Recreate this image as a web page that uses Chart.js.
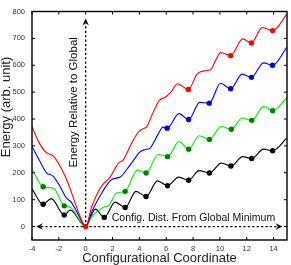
<!DOCTYPE html>
<html><head><meta charset="utf-8">
<script src="https://cdn.jsdelivr.net/npm/chart.js@4"></script>
<style>html,body{margin:0;padding:0;background:#fff;overflow:hidden;}</style>
</head><body>
<canvas id="c" width="291" height="265" style="display:block;width:291px;height:265px"></canvas>
<script>
// ---- tick labels ----
const xTicks = [-4, -2, 0, 2, 4, 6, 8, 10, 12, 14];
const yTicks = [0, 100, 200, 300, 400, 500, 600, 700, 800];

// ---- curves ----
const blackX = [-4, -3.17, -2.57, -1.6, -1.15, 0, 0.72, 1.38, 2.2, 2.94, 3.75, 4.5, 5.35, 6.1, 6.94, 7.67, 8.45, 9.22, 10.1, 10.82, 11.7, 12.37, 13.25, 13.93, 15];
const blackY = [140, 83, 104, 43, 61, 0, 65, 34, 91, 71, 131, 112, 170, 152, 184, 172, 208, 199, 236, 225, 260, 253, 288, 282, 330];

const greenX = [-4, -3.17, -2.7, -2.3, -1.6, -1.15, 0, 0.5, 1.35, 1.75, 2.3, 2.94, 3.85, 4.5, 5.4, 6.1, 6.94, 7.67, 8.45, 9.22, 10.1, 10.85, 11.66, 12.37, 13.27, 13.93, 15];
const greenY = [214, 148, 145, 138, 77, 72, 0, 40, 72, 80, 125, 131, 210, 199, 268, 260, 316, 288, 338, 324, 372, 362, 404, 395, 447, 431, 480];

const blueX = [-4, -3.4, -2.92, -2.43, -1.94, -1.45, -1.08, -0.6, 0, 0.45, 1.2, 1.96, 2.57, 3.1, 3.55, 4.0, 4.4, 4.8, 5.4, 5.76, 6.07, 6.95, 7.67, 8.5, 9.21, 10.05, 10.8, 11.66, 12.35, 13.25, 13.92, 15];
const blueY = [298, 242, 200, 188, 152, 107, 91, 49, 0, 55, 125, 176, 184, 215, 245, 276, 286, 292, 344, 370, 366, 420, 398, 462, 459, 533, 513, 567, 555, 609, 600, 668];

const redX = [-4, -3.5, -3.0, -2.4, -1.8, -1.3, -0.8, -0.35, 0, 0.44, 1.18, 1.83, 2.44, 2.8, 3.4, 3.9, 4.2, 4.55, 5.0, 5.5, 5.9, 6.35, 6.85, 7.65, 8.3, 8.8, 9.3, 9.7, 10.05, 10.8, 11.7, 12.35, 13.15, 13.93, 15];
const redY = [372, 315, 278, 262, 215, 160, 90, 30, 0, 73, 150, 185, 236, 248, 308, 350, 362, 372, 422, 470, 480, 500, 531, 510, 567, 579, 583, 620, 647, 636, 698, 683, 740, 729, 790];

// ---- marked minima ----
const blackDotX = [-3.17, -1.6, 1.38, 2.94, 4.5, 6.1, 7.67, 9.22, 10.82, 12.37, 13.93];
const blackDotY = [83, 43, 34, 71, 112, 152, 172, 199, 225, 253, 282];
const greenDotX = [-3.17, -1.6, 2.94, 4.5, 6.1, 7.67, 9.22, 10.85, 12.37, 13.93];
const greenDotY = [148, 77, 131, 199, 260, 288, 324, 362, 395, 431];
const blueDotX = [6.07, 7.67, 9.21, 10.8, 12.35, 13.92];
const blueDotY = [366, 398, 459, 513, 555, 600];
const redDotX = [0, 7.65, 10.8, 12.35, 13.93];
const redDotY = [0, 510, 636, 683, 729];

// ---- annotations ----
const vArrow = {x: 0, from: 0, to: 774};
const hArrow = {y: 0, from: -3.7, to: 14.66};
const vLabel = {text: 'Energy Relative to Global', x: -0.9, y: 462};
const hLabel = {text: 'Config. Dist. From Global Minimum', x: 8.03, y: 30};
const xTitle = 'Configurational Coordinate';
const yTitle = 'Energy (arb. unit)';

const FONT = '"Liberation Sans", Arial, sans-serif';
const pts = (xs, ys) => xs.map((x, i) => ({x: x, y: ys[i]}));
const curve = (label, xs, ys, color) => ({
  type: 'line', label, data: pts(xs, ys), borderColor: color, backgroundColor: color,
  borderWidth: 1.1, pointRadius: 0, cubicInterpolationMode: 'monotone', fill: false
});
const dots = (label, xs, ys, color) => ({
  type: 'scatter', label, data: pts(xs, ys), showLine: false, pointRadius: 2.7,
  pointBackgroundColor: color, pointBorderColor: color, pointBorderWidth: 0
});

function head(ctx, tx, ty, dx, dy) {
  const len = 7, half = 3.2;
  const px = -dy, py = dx;
  ctx.beginPath();
  ctx.moveTo(tx, ty);
  ctx.lineTo(tx - dx * len + px * half, ty - dy * len + py * half);
  ctx.lineTo(tx - dx * len * 0.65, ty - dy * len * 0.65);
  ctx.lineTo(tx - dx * len - px * half, ty - dy * len - py * half);
  ctx.closePath();
  ctx.fill();
}

const deco = {
  id: 'deco',
  beforeDatasetsDraw(chart) {
    const {ctx, scales: {x, y}} = chart;
    ctx.save();
    ctx.strokeStyle = '#000'; ctx.fillStyle = '#000';
    ctx.lineWidth = 1.3; ctx.setLineDash([2.2, 2.2]);
    const vx = x.getPixelForValue(vArrow.x);
    const vy0 = y.getPixelForValue(vArrow.from), vy1 = y.getPixelForValue(vArrow.to);
    ctx.beginPath(); ctx.moveTo(vx, vy0); ctx.lineTo(vx, vy1 + 5); ctx.stroke();
    const hy = y.getPixelForValue(hArrow.y);
    const hx0 = x.getPixelForValue(hArrow.from), hx1 = x.getPixelForValue(hArrow.to);
    ctx.beginPath(); ctx.moveTo(hx0 + 5, hy); ctx.lineTo(hx1 - 5, hy); ctx.stroke();
    ctx.setLineDash([]);
    head(ctx, vx, vy1, 0, -1);
    head(ctx, hx0, hy, -1, 0);
    head(ctx, hx1, hy, 1, 0);
    // labels
    ctx.fillStyle = '#111';
    ctx.textAlign = 'center'; ctx.textBaseline = 'middle';
    ctx.font = '10.5px ' + FONT;
    ctx.fillText(hLabel.text, x.getPixelForValue(hLabel.x), y.getPixelForValue(hLabel.y));
    ctx.save();
    ctx.translate(x.getPixelForValue(vLabel.x), y.getPixelForValue(vLabel.y));
    ctx.rotate(-Math.PI / 2);
    ctx.font = '11.5px ' + FONT;
    ctx.fillText(vLabel.text, 0, 0);
    ctx.restore();
    ctx.restore();
  },
  afterDatasetsDraw(chart) {
    const {ctx, chartArea: a, scales: {x, y}} = chart;
    ctx.save();
    ctx.strokeStyle = '#000'; ctx.lineWidth = 1;
    ctx.beginPath();
    x.ticks.forEach(t => {
      const p = x.getPixelForValue(t.value);
      ctx.moveTo(p, a.bottom); ctx.lineTo(p, a.bottom - 3);
      ctx.moveTo(p, a.top); ctx.lineTo(p, a.top + 3);
    });
    y.ticks.forEach(t => {
      const p = y.getPixelForValue(t.value);
      ctx.moveTo(a.left, p); ctx.lineTo(a.left + 3, p);
      ctx.moveTo(a.right, p); ctx.lineTo(a.right - 3, p);
    });
    ctx.stroke();
    ctx.lineWidth = 1.4;
    ctx.strokeRect(a.left, a.top, a.right - a.left, a.bottom - a.top);
    // y title
    ctx.fillStyle = '#222';
    ctx.font = '13px ' + FONT;
    ctx.textAlign = 'center'; ctx.textBaseline = 'middle';
    ctx.translate(6.5, y.getPixelForValue(445));
    ctx.rotate(-Math.PI / 2);
    ctx.fillText(yTitle, 0, 0);
    ctx.restore();
  }
};

new Chart(document.getElementById('c'), {
  type: 'line',
  data: {
    datasets: [
      dots('red min', redDotX, redDotY, '#ff0000'),
      dots('blue min', blueDotX, blueDotY, '#0000ff'),
      dots('green min', greenDotX, greenDotY, '#008000'),
      dots('black min', blackDotX, blackDotY, '#000000'),
      curve('red', redX, redY, '#ff0000'),
      curve('blue', blueX, blueY, '#0000ff'),
      curve('green', greenX, greenY, '#00ee00'),
      curve('black', blackX, blackY, '#000000')
    ]
  },
  options: {
    responsive: false, animation: false, devicePixelRatio: 1,
    layout: {padding: {top: 4, right: 1, left: 0, bottom: 0}},
    plugins: {legend: {display: false}, tooltip: {enabled: false}},
    scales: {
      x: {
        type: 'linear', min: -4, max: 15,
        afterBuildTicks: s => { s.ticks = xTicks.map(v => ({value: v})); },
        afterFit: s => { s.height = 25; },
        grid: {display: false, drawTicks: false}, border: {display: false},
        ticks: {font: {family: FONT, size: 7.5}, color: '#333', padding: 4, maxRotation: 0, autoSkip: false},
        title: {display: true, text: xTitle, color: '#222', font: {family: FONT, size: 13, lineHeight: 1}, padding: {top: 0, bottom: 0.5}}
      },
      y: {
        type: 'linear', min: -50, max: 800,
        afterBuildTicks: s => { s.ticks = yTicks.map(v => ({value: v})); },
        afterFit: s => { s.width = 32; },
        grid: {display: false, drawTicks: false}, border: {display: false},
        ticks: {font: {family: FONT, size: 7.5}, color: '#333', padding: 7, autoSkip: false}
      }
    }
  },
  plugins: [deco]
});
</script>
</body></html>
